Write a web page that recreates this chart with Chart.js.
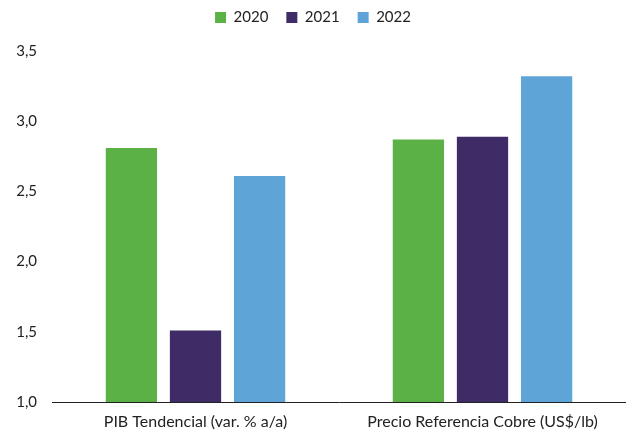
<!DOCTYPE html>
<html lang="es">
<head>
  <meta charset="UTF-8">
  <title>PIB y Cobre</title>
  <style>
    body { margin: 0; background: #fff; }
    #wrap { width: 626px; height: 430px; }
  </style>
</head>
<body>
  <div id="wrap"><canvas id="myChart" width="626" height="430"></canvas></div>

  <script src="https://cdn.jsdelivr.net/npm/chart.js"></script>
  <script>
    const categories = ['PIB Tendencial (var. % a/a)', 'Precio Referencia Cobre (US$/lb)'];
    const years = ['2020', '2021', '2022'];
    const values2020 = [2.81, 2.87];
    const values2021 = [1.51, 2.89];
    const values2022 = [2.61, 3.32];
    const colors = ['#5bb146', '#3f2b66', '#5fa4d6'];

    const seriesValues = [values2020, values2021, values2022];

    // a bit more room under the legend
    const legendGap = {
      id: 'legendGap',
      beforeInit(chart) {
        const fit = chart.legend.fit;
        chart.legend.fit = function () {
          fit.bind(chart.legend)();
          this.height += 16;
        };
      }
    };

    const ctx = document.getElementById('myChart').getContext('2d');
    new Chart(ctx, {
      type: 'bar',
      data: {
        labels: categories,
        datasets: years.map((y, i) => ({
          label: y,
          data: seriesValues[i],
          backgroundColor: colors[i],
          borderWidth: 0,
          categoryPercentage: 0.67,
          barPercentage: 0.8
        }))
      },
      options: {
        responsive: false,
        animation: false,
        layout: { padding: { top: -8, right: 0, left: 0, bottom: 0 } },
        plugins: {
          legend: {
            position: 'top',
            labels: {
              boxWidth: 11,
              boxHeight: 11,
              padding: 18,
              color: '#222',
              font: { family: 'Lato', size: 15 }
            }
          },
          tooltip: { enabled: false }
        },
        scales: {
          x: {
            grid: { display: false, drawTicks: false },
            border: { display: true, color: '#222', width: 1 },
            ticks: { color: '#222', font: { family: 'Lato', size: 16 }, padding: 10 },
            afterFit(scale) { scale.height = 28; }
          },
          y: {
            min: 1,
            max: 3.5,
            grid: { display: false, drawTicks: false },
            border: { display: false },
            ticks: {
              stepSize: 0.5,
              color: '#222',
              padding: 15,
              font: { family: 'Lato', size: 15 },
              callback: v => v.toFixed(1).replace('.', ',')
            },
            afterFit(scale) { scale.width = 52; }
          }
        }
      },
      plugins: [legendGap]
    });
  </script>
</body>
</html>
